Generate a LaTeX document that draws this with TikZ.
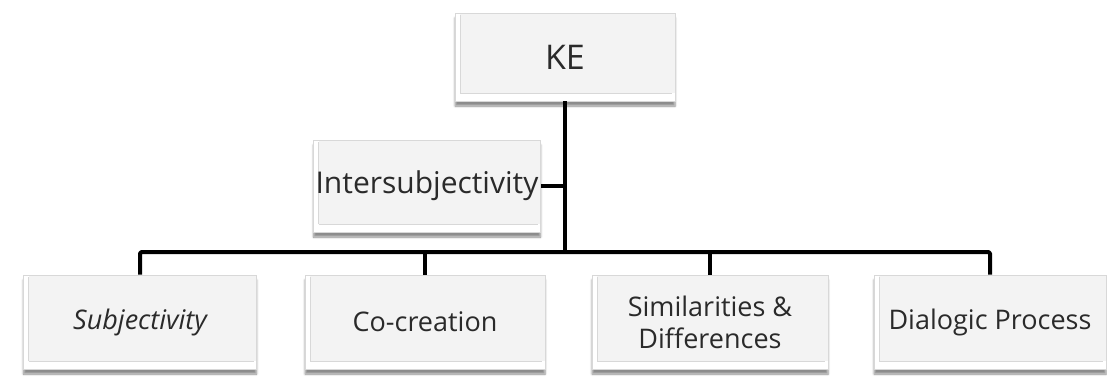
\documentclass[tikz,border=0pt]{standalone}
\usepackage{fontspec}
\setmainfont{Open Sans}
\usetikzlibrary{shadows.blur}
\definecolor{boxfill}{HTML}{F3F3F3}
\definecolor{boxedge}{HTML}{D8D8D8}
\definecolor{inktext}{HTML}{2A2A2A}
\tikzset{
  x=1pt, y=-1pt,
  bevelbox/.style={
    rectangle, fill=boxfill, draw=boxedge, line width=0.6pt,
    text=inktext, font=\fontsize{27}{32}\selectfont, align=center,
    inner sep=0pt,
    blur shadow={shadow xshift=0pt, shadow yshift=-5pt,
                 shadow blur steps=6, shadow opacity=45},
    path picture={
      \fill[white] (path picture bounding box.south west)
        rectangle ([yshift=8pt]path picture bounding box.south east);
      \fill[white] (path picture bounding box.south west)
        rectangle ([xshift=5pt]path picture bounding box.north west);
      \draw[boxedge, line width=0.8pt]
        ([xshift=5pt,yshift=8pt]path picture bounding box.south west)
        -- ([xshift=-3pt,yshift=8pt]path picture bounding box.south east);
      \draw[boxedge, line width=0.6pt]
        ([xshift=5pt,yshift=8pt]path picture bounding box.south west)
        -- ([xshift=5pt,yshift=-2pt]path picture bounding box.north west);
    }},
  link/.style={line width=4pt, draw=black, line join=round, rounded corners=1.5pt}
}
\begin{document}
\begin{tikzpicture}
\useasboundingbox (0,0) rectangle (1107,376);

% top node and the side label
\node[bevelbox, minimum width=220pt, minimum height=88pt,
      font=\fontsize{34}{40}\selectfont] (ke) at (565,57) {KE};
\node[bevelbox, minimum width=227pt, minimum height=92pt,
      font=\fontsize{30}{36}\selectfont] (inter) at (427,186) {Intersubjectivity};

% bottom row
\node[bevelbox, minimum width=233pt, minimum height=94pt] (subj) at (140,322) {\itshape Subjectivity};
\node[bevelbox, minimum width=240pt, minimum height=94pt] (cocr) at (425,322) {Co-creation};
\node[bevelbox, minimum width=236pt, minimum height=94pt] (simd) at (710,322) {Similarities \&\\Differences};
\node[bevelbox, minimum width=232pt, minimum height=94pt] (dial) at (990,322) {Dialogic Process};

% connectors
\coordinate (hub) at (565,252);
\coordinate (tap) at (565,186);
\draw[link] (ke.south) -- (hub);
\draw[link] (inter.east) -- (tap);
\draw[link] (subj.north) |- (hub) -| (dial.north);
\draw[link] (cocr.north) -- (cocr.north |- hub);
\draw[link] (simd.north) -- (simd.north |- hub);
\end{tikzpicture}
\end{document}
